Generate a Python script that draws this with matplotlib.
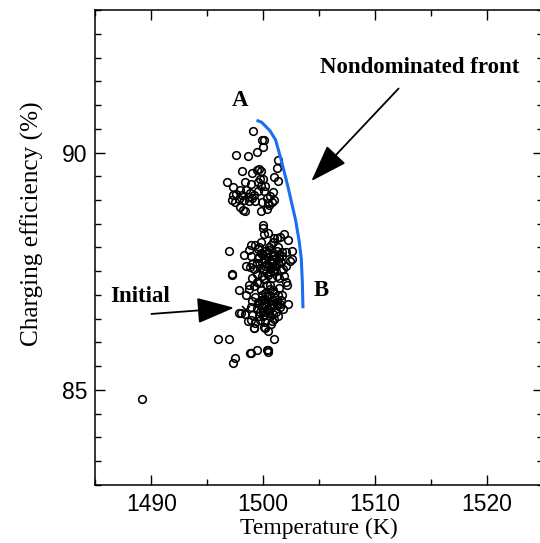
import matplotlib
matplotlib.use('Agg')
import matplotlib.pyplot as plt
from matplotlib.ticker import MultipleLocator

# sampled designs (temperature K, charging efficiency %)
upper_T = [1499.1, 1499.9, 1500.1, 1500.0, 1497.6, 1498.6, 1499.4, 1501.3, 1498.1, 1499.4,
           1499.6, 1499.8, 1501.2, 1499.0, 1501.0, 1501.3, 1496.8, 1497.3, 1498.4, 1499.5,
           1500.0, 1499.8, 1497.9, 1498.5, 1497.6, 1498.1, 1497.3, 1498.8, 1499.5, 1500.1,
           1500.9, 1497.5, 1497.9, 1498.4, 1499.3, 1499.8, 1500.3, 1500.8, 1501.0, 1497.2,
           1498.3, 1498.7, 1499.0, 1500.3, 1500.5, 1500.6, 1499.2, 1497.8, 1498.6, 1499.9,
           1500.2, 1498.9, 1499.7, 1500.4, 1498.2]
upper_E = [90.45, 90.27, 90.27, 90.11, 89.95, 89.93, 90.01, 89.85, 89.62, 89.64,
           89.66, 89.62, 89.67, 89.57, 89.48, 89.40, 89.37, 89.28, 89.37, 89.37,
           89.44, 89.30, 89.22, 89.22, 89.12, 89.10, 89.10, 89.14, 89.20, 89.18,
           89.16, 88.95, 88.85, 88.76, 88.98, 88.76, 88.82, 88.96, 89.00, 89.00,
           89.00, 88.97, 89.05, 89.05, 88.90, 89.08, 89.10, 89.03, 89.07, 88.96,
           89.30, 89.33, 89.45, 88.93, 88.80]

middle_T = [1500.0, 1500.0, 1500.1, 1501.9, 1501.5, 1501.2, 1502.2, 1500.9, 1499.8, 1499.3,
            1498.9, 1500.5, 1500.7, 1501.3, 1498.7, 1499.5, 1500.2, 1501.7, 1502.0, 1496.9,
            1498.9, 1499.6, 1500.4, 1500.9, 1501.4, 1502.6, 1499.4, 1499.9, 1500.3, 1500.7,
            1501.1, 1502.4, 1502.6, 1498.5, 1498.8, 1499.2, 1499.7, 1500.1, 1500.6, 1501.0,
            1501.6, 1502.0, 1499.4, 1500.4, 1501.2, 1497.2, 1497.2, 1499.0, 1499.4, 1500.1,
            1501.4, 1501.9, 1498.7, 1499.2, 1500.6, 1502.0, 1497.8, 1499.6, 1500.9, 1500.8,
            1501.3, 1500.0, 1500.5, 1501.0, 1499.9, 1500.3, 1501.6, 1498.3, 1499.0, 1501.0,
            1500.4, 1501.8, 1500.2, 1500.8, 1499.6, 1500.6, 1501.1, 1500.2, 1500.8, 1501.4,
            1499.8, 1500.5, 1501.2, 1500.0, 1500.9, 1499.5, 1501.7, 1500.3, 1501.0, 1500.6]
middle_E = [88.48, 88.42, 88.28, 88.28, 88.22, 88.20, 88.15, 88.12, 88.12, 88.05,
            88.05, 88.00, 88.05, 88.02, 87.95, 87.97, 87.93, 87.90, 87.90, 87.92,
            87.82, 87.80, 87.80, 87.85, 87.78, 87.92, 87.68, 87.70, 87.65, 87.68,
            87.63, 87.72, 87.75, 87.62, 87.58, 87.55, 87.57, 87.52, 87.55, 87.50,
            87.52, 87.60, 87.45, 87.42, 87.40, 87.45, 87.42, 87.35, 87.28, 87.33,
            87.35, 87.40, 87.20, 87.18, 87.22, 87.28, 87.10, 87.25, 87.50, 87.75,
            87.68, 87.85, 87.60, 87.85, 87.40, 87.20, 87.70, 87.85, 87.65, 88.20,
            88.30, 87.55, 87.75, 87.35, 88.00, 87.72, 87.78, 87.62, 87.58, 87.85,
            87.88, 87.95, 87.92, 87.55, 87.70, 87.78, 87.82, 87.88, 87.60, 87.48]

lower_T = [1498.5, 1499.3, 1499.8, 1500.2, 1500.6, 1501.0, 1501.4, 1501.7, 1502.2, 1502.1,
           1499.5, 1500.0, 1500.4, 1500.8, 1501.2, 1501.6, 1498.9, 1499.4, 1499.9, 1500.3,
           1500.7, 1501.1, 1501.5, 1498.0, 1497.8, 1498.4, 1499.0, 1499.6, 1500.1, 1500.6,
           1501.0, 1498.6, 1499.7, 1500.2, 1500.7, 1499.2, 1500.4, 1500.8, 1501.3, 1500.0,
           1499.0, 1498.7, 1499.9, 1500.5, 1501.3, 1500.9, 1500.3, 1499.7, 1501.8, 1498.9,
           1499.3, 1500.9, 1500.1, 1500.7, 1501.0, 1499.6, 1500.4, 1501.2, 1500.2, 1500.9,
           1499.8, 1500.5, 1501.5, 1500.0, 1500.6]
lower_E = [87.00, 86.95, 87.10, 87.05, 87.12, 87.05, 87.15, 87.00, 86.82, 87.20,
           86.85, 86.90, 86.85, 86.90, 86.85, 86.90, 86.75, 86.72, 86.75, 86.70,
           86.72, 86.65, 86.75, 86.62, 86.62, 86.60, 86.58, 86.55, 86.58, 86.55,
           86.50, 86.45, 86.48, 86.42, 86.38, 86.30, 86.25, 86.45, 86.55, 86.65,
           86.88, 87.12, 87.00, 87.00, 87.00, 86.80, 86.95, 86.65, 86.70, 86.48,
           86.40, 86.60, 86.82, 86.78, 86.95, 86.80, 86.62, 86.78, 86.92, 87.10,
           86.90, 86.68, 86.82, 86.55, 86.88]

sparse_T = [1496.0, 1496.9, 1499.2, 1500.2, 1500.1, 1501.0, 1499.4, 1498.8, 1498.9, 1500.3,
            1500.4, 1497.5, 1497.3, 1500.4, 1489.2]
sparse_E = [86.08, 86.08, 86.30, 86.30, 86.32, 86.08, 85.83, 85.78, 85.77, 85.83,
            85.80, 85.67, 85.57, 85.85, 84.80]

# nondominated front, A (top) to B (bottom)
front_T = [1499.4, 1499.85, 1500.6, 1501.1, 1501.6, 1502.2, 1502.9, 1503.2, 1503.4, 1503.5, 1503.55]
front_E = [90.68, 90.64, 90.46, 90.27, 89.85, 89.29, 88.57, 88.15, 87.77, 87.25, 86.72]

initial_T, initial_E = 1498.5, 86.68

T = upper_T + middle_T + lower_T + sparse_T
E = upper_E + middle_E + lower_E + sparse_E

fig = plt.figure(figsize=(5.4, 5.43), dpi=100)
ax = fig.add_axes([0.1767, 0.1072, 0.8287, 0.874])

ax.plot(T, E, 'o', mfc='none', mec='black', ms=5.5, mew=1.15, ls='none')
ax.plot([initial_T], [initial_E], 'x', color='black', ms=6, mew=1.2)
ax.plot(front_T, front_E, color='#1a6ef2', lw=2.2, solid_capstyle='butt')

ax.set_xlim(1485, 1525)
ax.set_ylim(83, 93)
ax.xaxis.set_major_locator(MultipleLocator(10))
ax.xaxis.set_minor_locator(MultipleLocator(5))
ax.yaxis.set_major_locator(MultipleLocator(5))
ax.yaxis.set_minor_locator(MultipleLocator(0.5))
ax.tick_params(which='both', direction='in', top=True, right=True, width=1.0)
ax.tick_params(which='major', length=7, labelsize=16.5, pad=6)
ax.tick_params(which='minor', length=4.5)
for lab in ax.get_xticklabels() + ax.get_yticklabels():
    lab.set_family('Liberation Sans')
for s in ax.spines.values():
    s.set_linewidth(1.1)

ax.set_xlabel('Temperature (K)', family='Liberation Serif', fontsize=17, labelpad=1)
ax.set_ylabel('Charging efficiency (%)', family='Liberation Serif', fontsize=18.2)
ax.yaxis.set_label_coords(-0.115, 0.55)

bold = dict(family='Liberation Serif', fontweight='bold', fontsize=16.5)
ax.text(1497.9, 91.1, 'A', ha='center', va='center', **bold)
ax.text(1505.2, 87.1, 'B', ha='center', va='center', **bold)
ax.text(1489.0, 86.97, 'Initial', ha='center', va='center', **bold)
ax.text(1514.0, 91.8, 'Nondominated front', ha='center', va='center', **bold)

arrow = dict(arrowstyle='-|>,head_length=1.3,head_width=0.45', color='black', lw=1.3,
             mutation_scale=18, shrinkA=0, shrinkB=0)
ax.annotate('', xy=(1504.3, 89.4), xytext=(1512.1, 91.35), arrowprops=arrow)
ax.annotate('', xy=(1497.4, 86.73), xytext=(1490.0, 86.6), arrowprops=arrow)

plt.savefig('out.png', dpi=100)
plt.close()
